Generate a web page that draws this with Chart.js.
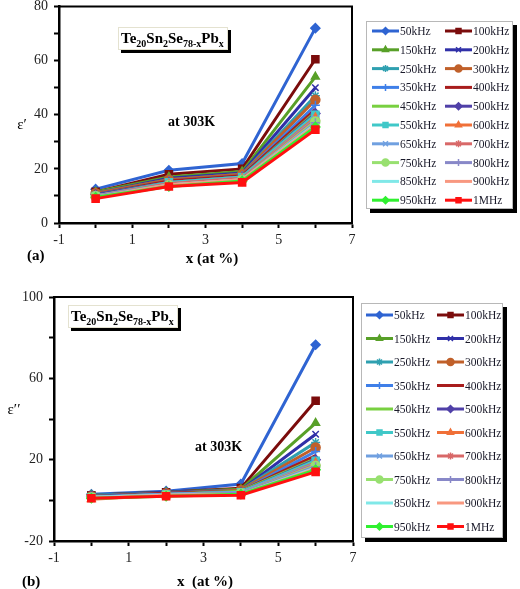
<!DOCTYPE html>
<html>
<head>
<meta charset="utf-8">
<script src="https://cdn.jsdelivr.net/npm/chart.js@4/dist/chart.umd.min.js"></script>
<style>
  html, body { margin: 0; padding: 0; background: #fff; }
  .panel { position: absolute; left: 0; width: 520px; }
  #panelA { top: 0; height: 290px; }
  #panelB { top: 290px; height: 299px; }
</style>
</head>
<body>
<div class="panel" id="panelA"><canvas id="chartA" width="520" height="290"></canvas></div>
<div class="panel" id="panelB"><canvas id="chartB" width="520" height="299"></canvas></div>
<script>
// x positions (at %) shared by both panels
const xValues = [0, 2, 4, 6];

// frequency labels for each series
const seriesLabels = ['50kHz', '100kHz', '150kHz', '200kHz', '250kHz', '300kHz', '350kHz', '400kHz', '450kHz', '500kHz',
    '550kHz', '600kHz', '650kHz', '700kHz', '750kHz', '800kHz', '850kHz', '900kHz', '950kHz', '1MHz'];

// panel (a): dielectric constant e'
const epsReal = [
    [12.5, 19.5, 22, 72],
    [11.5, 18, 20, 60.5],
    [11.5, 17, 19, 54],
    [11, 16.5, 18.5, 50],
    [11, 16, 18, 47],
    [11, 16, 18, 45.5],
    [10.5, 15.5, 17.5, 43.5],
    [10.5, 15.5, 17.5, 42],
    [10.5, 15, 17, 41],
    [10.5, 15, 17, 40.5],
    [10, 15, 17, 40],
    [10, 14.5, 16.5, 39],
    [10, 14.5, 16.5, 38.5],
    [10, 14.5, 16.5, 38],
    [10, 14, 16, 37.5],
    [10, 14, 16, 37],
    [9.5, 14, 16, 36.5],
    [9.5, 14, 16, 36],
    [9.5, 13.5, 15.5, 35.5],
    [9, 13.5, 15, 34.5]
];

// panel (b): dielectric loss e''
const epsLoss = [
    [3, 4.5, 8, 76.5],
    [2.5, 4, 6, 49],
    [2.5, 4, 5.5, 38],
    [2.5, 4, 5, 32.5],
    [2.5, 3.5, 5, 28.5],
    [2, 3.5, 5, 26],
    [2, 3.5, 4.5, 24],
    [2, 3.5, 4.5, 22],
    [2, 3, 4.5, 20.5],
    [2, 3, 4, 20],
    [1.5, 3, 4, 19.5],
    [0.5, 2.5, 3.5, 18.5],
    [1.5, 3, 4, 18],
    [1.5, 2.5, 3.5, 17.5],
    [1.5, 2.5, 3.5, 17],
    [1.5, 2.5, 3.5, 16.5],
    [1.5, 2.5, 3, 16],
    [1, 2.5, 3, 15.5],
    [1, 2, 3, 15],
    [1, 2, 2.5, 14]
];

// series styling (Excel-like palette)
const seriesColors = ['#2f64d2', '#7b0c0c', '#58a028', '#3030a8', '#2fa0b0', '#c0602a', '#3f7fe8', '#a81c1c', '#78d040', '#5040a8',
    '#40c8c8', '#f07038', '#70a0e0', '#d86868', '#98e070', '#8888c8', '#80e8e8', '#f89880', '#30f030', '#ff1010'];
const seriesMarkers = ['rectRot', 'rect', 'triangle', 'crossRot', 'star', 'circle', 'cross', false, false, 'rectRot',
    'rect', 'triangle', 'crossRot', 'star', 'circle', 'cross', false, false, 'rectRot', 'rect'];

const serif = "'Liberation Serif', 'Times New Roman', serif";

// Build datasets for one panel
function buildDatasets(values) {
    return values.map((row, i) => ({
        label: seriesLabels[i],
        data: row.map((v, k) => ({ x: xValues[k], y: v })),
        borderColor: seriesColors[i],
        backgroundColor: seriesColors[i],
        borderWidth: 3,
        pointStyle: seriesMarkers[i],
        pointRadius: seriesMarkers[i] ? (seriesMarkers[i] === 'rect' ? 5 : 4.5) : 0,
        pointBorderWidth: 1.5,
        tension: 0,
        order: values.length - i // last series drawn on top, like the original
    }));
}

// Chemical formula with subscripts
function drawFormula(ctx, x, y) {
    const parts = [['Te', 0], ['20', 1], ['Sn', 0], ['2', 1], ['Se', 0], ['78-x', 1], ['Pb', 0], ['x', 1]];
    ctx.textAlign = 'left';
    ctx.textBaseline = 'alphabetic';
    ctx.fillStyle = '#000';
    parts.forEach(([t, sub]) => {
        ctx.font = sub ? `bold 10px ${serif}` : `bold 15px ${serif}`;
        ctx.fillText(t, x, sub ? y + 4 : y);
        x += ctx.measureText(t).width;
    });
}

// Plugin: frame, annotations and the two-column legend box
function makeDecorPlugin(cfg) {
    return {
        id: 'decor',
        afterDraw(chart) {
            const ctx = chart.ctx;
            const a = chart.chartArea;
            ctx.save();

            // top and right border of the plot
            ctx.strokeStyle = '#000';
            ctx.lineWidth = 2;
            ctx.beginPath();
            ctx.moveTo(a.left, a.top);
            ctx.lineTo(a.right, a.top);
            ctx.lineTo(a.right, a.bottom);
            ctx.stroke();

            // formula box with shadow
            const f = cfg.formula;
            ctx.fillStyle = '#000';
            ctx.fillRect(f.x + 3, f.y + 3, f.w, f.h);
            ctx.fillStyle = '#fff';
            ctx.fillRect(f.x, f.y, f.w, f.h);
            ctx.strokeStyle = '#e4e2d0';
            ctx.lineWidth = 1;
            ctx.strokeRect(f.x + 0.5, f.y + 0.5, f.w - 1, f.h - 1);
            drawFormula(ctx, f.x + 3, f.y + 16);

            // texts
            ctx.fillStyle = '#000';
            ctx.textBaseline = 'middle';
            ctx.textAlign = 'left';
            ctx.font = `bold 14px ${serif}`;
            ctx.fillText('at 303K', cfg.temp.x, cfg.temp.y);
            ctx.font = `bold 15px ${serif}`;
            ctx.fillText(cfg.tag.text, cfg.tag.x, cfg.tag.y);
            ctx.textAlign = 'center';
            ctx.fillText(cfg.xTitle.text, cfg.xTitle.x, cfg.xTitle.y);
            ctx.font = `15px ${serif}`;
            ctx.fillText(cfg.yTitle.text, cfg.yTitle.x, cfg.yTitle.y);

            // legend box with shadow
            const L = cfg.legend;
            ctx.fillStyle = '#000';
            ctx.fillRect(L.x + 4, L.y + 4, L.w, L.h);
            ctx.fillStyle = '#fff';
            ctx.fillRect(L.x, L.y, L.w, L.h);
            ctx.strokeStyle = '#b8b8b8';
            ctx.lineWidth = 1;
            ctx.strokeRect(L.x + 0.5, L.y + 0.5, L.w - 1, L.h - 1);

            chart.data.datasets.forEach((ds, i) => {
                const row = Math.floor(i / 2);
                const col = i % 2;
                const x0 = L.cols[col];
                const y0 = L.row0 + row * L.rowGap;
                ctx.strokeStyle = ds.borderColor;
                ctx.lineWidth = 3;
                ctx.beginPath();
                ctx.moveTo(x0, y0);
                ctx.lineTo(x0 + 27, y0);
                ctx.stroke();
                if (ds.pointStyle && Chart.helpers && Chart.helpers.drawPoint) {
                    ctx.fillStyle = ds.backgroundColor;
                    ctx.lineWidth = 1.5;
                    Chart.helpers.drawPoint(ctx, { pointStyle: ds.pointStyle, radius: 3.5, rotation: 0, borderWidth: 1.5 }, x0 + 13.5, y0);
                }
                ctx.fillStyle = '#1a1a2a';
                ctx.font = `11.5px ${serif}`;
                ctx.textAlign = 'left';
                ctx.textBaseline = 'middle';
                ctx.fillText(ds.label, x0 + 28, y0 + 1);
            });
            ctx.restore();
        }
    };
}

// Create one panel chart
function makePanel(canvasId, values, axis, cfg) {
    return new Chart(document.getElementById(canvasId).getContext('2d'), {
        type: 'line',
        data: { datasets: buildDatasets(values) },
        options: {
            responsive: false,
            animation: false,
            layout: { padding: { left: 0, top: axis.top, right: axis.right, bottom: 0 } },
            plugins: {
                legend: { display: false },
                tooltip: { enabled: false }
            },
            scales: {
                x: {
                    type: 'linear',
                    min: -1,
                    max: 7,
                    ticks: {
                        stepSize: 1,
                        color: '#222',
                        font: { family: serif, size: 14 },
                        padding: 4,
                        maxRotation: 0,
                        autoSkip: false,
                        callback: v => (v % 2 !== 0 ? v : '')
                    },
                    grid: { drawOnChartArea: false, color: '#000', tickLength: 5, tickWidth: 2 },
                    border: { color: '#000', width: 2.5 },
                    afterFit: s => { s.height = axis.xHeight; }
                },
                y: {
                    min: axis.yMin,
                    max: axis.yMax,
                    ticks: {
                        stepSize: axis.yStep,
                        color: '#222',
                        font: { family: serif, size: 14 },
                        padding: 6,
                        callback: v => ((v - axis.yMin) % axis.yLabelStep === 0 ? v : '')
                    },
                    grid: { drawOnChartArea: false, color: '#000', tickLength: 5, tickWidth: 2 },
                    border: { color: '#000', width: 2.5 },
                    afterFit: s => { s.width = axis.yWidth; s.paddingTop = 0; s.paddingBottom = 0; }
                }
            }
        },
        plugins: [makeDecorPlugin(cfg)]
    });
}

// panel (a)
makePanel('chartA', epsReal,
    { top: 6, right: 168, xHeight: 67, yWidth: 59, yMin: 0, yMax: 80, yStep: 10, yLabelStep: 20 },
    {
        formula: { x: 118, y: 27, w: 110, h: 23 },
        temp: { x: 168, y: 122 },
        tag: { text: '(a)', x: 27, y: 256 },
        xTitle: { text: 'x (at %)', x: 212, y: 259 },
        yTitle: { text: 'ε′', x: 22, y: 125 },
        legend: { x: 366, y: 21, w: 147, h: 188, cols: [372, 445], row0: 31, rowGap: 18.8 }
    });

// panel (b)
makePanel('chartB', epsLoss,
    { top: 7, right: 167, xHeight: 48, yWidth: 54, yMin: -20, yMax: 100, yStep: 20, yLabelStep: 40 },
    {
        formula: { x: 68, y: 15, w: 110, h: 23 },
        temp: { x: 195, y: 157 },
        tag: { text: '(b)', x: 22, y: 292 },
        xTitle: { text: 'x  (at %)', x: 205, y: 292 },
        yTitle: { text: 'ε′′', x: 14, y: 120 },
        legend: { x: 361, y: 13, w: 142, h: 235, cols: [366, 437], row0: 25, rowGap: 23.5 }
    });
</script>
</body>
</html>
